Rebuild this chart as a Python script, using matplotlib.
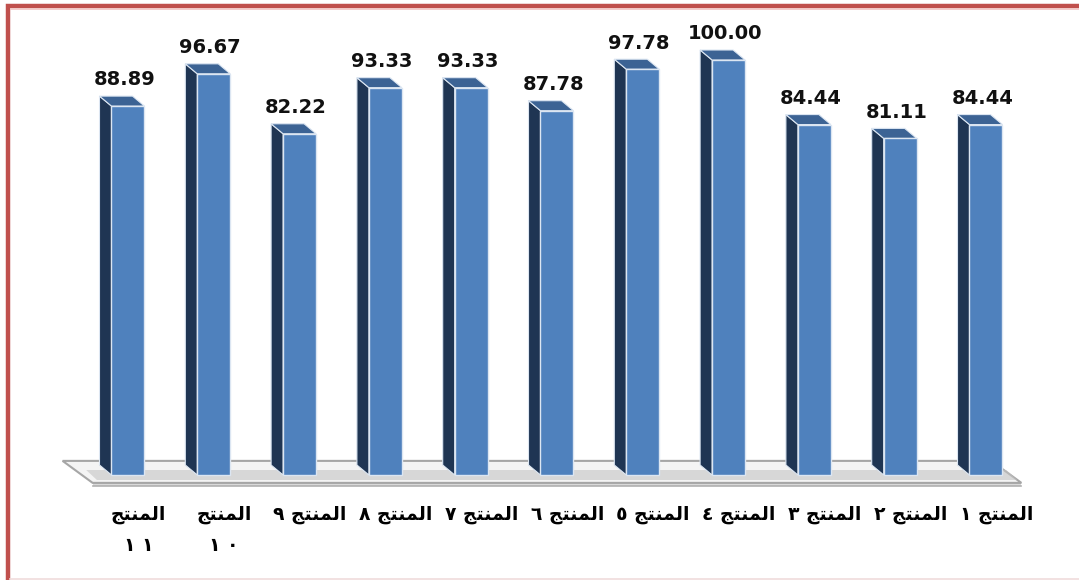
import matplotlib
matplotlib.use("Agg")
import matplotlib.pyplot as plt
from matplotlib.patches import Polygon, Rectangle
from matplotlib.lines import Line2D

# data, product 1 .. 11 (chart shows them right to left)
word = "المنتج"
numbers = ["١", "٢", "٣", "٤", "٥", "٦", "٧", "٨", "٩", "١٠", "١١"]
values = [84.44, 81.11, 84.44, 100.00, 97.78, 87.78, 93.33, 93.33, 82.22, 96.67, 88.89]

# minimal arabic shaping for the letters used (no bidi engine in matplotlib)
FORMS = {
    "ا": ("\uFE8D", "\uFE8E", None, None),
    "ل": ("\uFEDD", "\uFEDE", "\uFEDF", "\uFEE0"),
    "م": ("\uFEE1", "\uFEE2", "\uFEE3", "\uFEE4"),
    "ن": ("\uFEE5", "\uFEE6", "\uFEE7", "\uFEE8"),
    "ت": ("\uFE95", "\uFE96", "\uFE97", "\uFE98"),
    "ج": ("\uFE9D", "\uFE9E", "\uFE9F", "\uFEA0"),
}

def shape(w):
    out = []
    for i, ch in enumerate(w):
        iso, fin, ini, med = FORMS[ch]
        prev_joins = i > 0 and FORMS[w[i - 1]][2] is not None
        next_joins = ini is not None and i < len(w) - 1
        if prev_joins and next_joins:
            out.append(med)
        elif prev_joins:
            out.append(fin)
        elif next_joins:
            out.append(ini)
        else:
            out.append(iso)
    return "".join(reversed(out))

shaped = shape(word)
labels = []
for n in numbers:
    if len(n) > 1:
        labels.append(shaped + "\n" + " ".join(n))
    else:
        labels.append(n + " " + shaped)

# left to right order
labels = labels[::-1]
vals = values[::-1]
xs = list(range(len(vals)))

W, H = 1079, 580
fig = plt.figure(figsize=(W / 100, H / 100), dpi=100)
fig.patch.set_facecolor("white")

# pixel scale: 85.8 px per category, 4.15 px per unit, zero at y=475
px_x, px_y, y0 = 85.8, 4.15, 475
ylo, yhi = -20, 112
ax_h = (yhi - ylo) * px_y
ax_bottom = H - (y0 - ylo * px_y)
ax = fig.add_axes([0, ax_bottom / H, 1, ax_h / H])
ax.set_xlim(-128 / px_x, (W - 128) / px_x)
ax.set_ylim(ylo, yhi)
ax.axis("off")

bw = 33 / px_x
dx = -12 / px_x
dy = 10 / px_y

# floor
fl_l, fl_r = -bw / 2 - 0.22, xs[-1] + bw / 2 + 0.22
fy_f, fy_b = -1.9, 3.4
fdx = -0.35
ax.add_patch(Polygon([(fl_l, fy_f - 0.8), (fl_r, fy_f - 0.8), (fl_r, fy_f), (fl_l, fy_f)],
                     closed=True, facecolor="#d9d9d9", edgecolor="none", zorder=1))
ax.add_patch(Polygon([(fl_l, fy_f), (fl_r, fy_f), (fl_r + fdx, fy_b), (fl_l + fdx, fy_b)],
                     closed=True, facecolor="#f4f4f4", edgecolor="#a6a6a6", lw=1.5, zorder=1))
ax.add_patch(Polygon([(fl_l + 0.05, -1.2), (fl_r - 0.05, -1.2),
                      (fl_r + fdx * 0.5, 1.2), (fl_l + fdx * 0.5 + 0.1, 1.2)],
                     closed=True, facecolor="#c4c4c4", edgecolor="none", alpha=0.6, zorder=1))
ax.plot([fl_l, fl_r], [fy_f - 0.8, fy_f - 0.8], color="#b0b0b0", lw=1.2, zorder=1)

# 3d-looking bars
ax.bar(xs, vals, width=bw, color="#4f81bd", edgecolor="#dce6f2", linewidth=1.0, zorder=4)
for x, v in zip(xs, vals):
    xl, xr = x - bw / 2, x + bw / 2
    ax.add_patch(Polygon([(xl, 0), (xl, v), (xl + dx, v + dy), (xl + dx, dy)],
                         closed=True, facecolor="#1f3553", edgecolor="#dce6f2", lw=0.8, zorder=3))
    ax.add_patch(Polygon([(xl, v), (xr, v), (xr + dx, v + dy), (xl + dx, v + dy)],
                         closed=True, facecolor="#3c6394", edgecolor="#dce6f2", lw=0.8, zorder=3))
    ax.text(x + dx * 0.3, v + dy + 1.6, f"{v:.2f}", ha="center", va="bottom",
            fontsize=14, fontweight="bold", color="#111111", family="DejaVu Sans")

# category labels
for x, lab in zip(xs, labels):
    ax.text(x + 0.12, -7.3, lab, ha="center", va="top", fontsize=13.5, fontweight="bold",
            color="black", family="DejaVu Sans", linespacing=1.8, multialignment="center")

# red frame
fig.patches.append(Rectangle((8 / W, -0.2), 1.2, 1.2 - 6 / H, transform=fig.transFigure,
                             fill=False, edgecolor="#c0504d", lw=3.2))
fig.lines.append(Line2D([10.5 / W, 1], [1 - 8.8 / H, 1 - 8.8 / H], transform=fig.transFigure,
                        color="#f2c4c2", lw=1.2))
fig.lines.append(Line2D([10 / W, 1], [1.5 / H, 1.5 / H], transform=fig.transFigure,
                        color="#f0dcdc", lw=1.2))

fig.savefig("out.png", dpi=100)
